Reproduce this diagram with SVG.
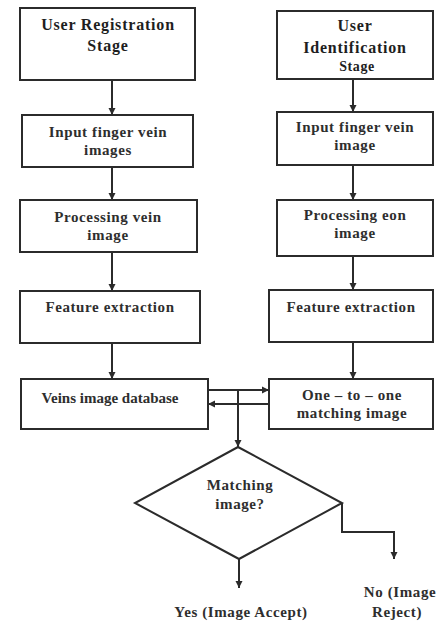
<svg xmlns="http://www.w3.org/2000/svg" width="440" height="623" viewBox="0 0 440 623">
<style>
.box{fill:#fff;stroke:#2b2b2b;stroke-width:2}
.t{font-family:"Liberation Serif","Times New Roman",serif;font-size:15px;font-weight:bold;letter-spacing:0.6px;fill:#2e2e2e;text-anchor:middle}
.b{font-size:16px;letter-spacing:0.8px;fill:#1e1e1e}
.c{fill:none;stroke:#2b2b2b;stroke-width:2}
</style>
<defs>
<marker id="ah" markerUnits="userSpaceOnUse" markerWidth="8" markerHeight="8" refX="7" refY="4" orient="auto">
<path d="M0,0.5 L7,4 L0,7.5 Z" fill="#2b2b2b"/>
</marker>
</defs>
<rect width="440" height="623" fill="#fff"/>
<g id="connectors">
<line class="c" x1="112" y1="80" x2="112" y2="115" marker-end="url(#ah)"/>
<line class="c" x1="112" y1="167" x2="112" y2="200" marker-end="url(#ah)"/>
<line class="c" x1="112" y1="252" x2="112" y2="291" marker-end="url(#ah)"/>
<line class="c" x1="112" y1="343" x2="112" y2="379" marker-end="url(#ah)"/>
<line class="c" x1="353" y1="79" x2="353" y2="112" marker-end="url(#ah)"/>
<line class="c" x1="353" y1="165" x2="353" y2="200" marker-end="url(#ah)"/>
<line class="c" x1="353" y1="256" x2="353" y2="290" marker-end="url(#ah)"/>
<line class="c" x1="353" y1="342" x2="353" y2="379" marker-end="url(#ah)"/>
<line class="c" x1="208" y1="390" x2="269" y2="390" marker-end="url(#ah)"/>
<line class="c" x1="269" y1="404" x2="208" y2="404" marker-end="url(#ah)"/>
<line class="c" x1="238" y1="390" x2="238" y2="447" marker-end="url(#ah)"/>
<polyline class="c" points="342,503 342,532 394,532 394,559" marker-end="url(#ah)"/>
<line class="c" x1="239" y1="559" x2="239" y2="588" marker-end="url(#ah)"/>
</g>
<g id="n1"><rect class="box" x="20" y="8" width="175" height="72"/>
<text class="t b" x="108" y="30">User Registration</text><text class="t b" x="108" y="51">Stage</text></g>
<g id="n2"><rect class="box" x="22" y="115" width="171" height="52"/>
<text class="t" x="108" y="137">Input finger vein</text><text class="t" x="108" y="155">images</text></g>
<g id="n3"><rect class="box" x="20" y="200" width="177" height="52"/>
<text class="t" x="108" y="222">Processing vein</text><text class="t" x="108" y="240">image</text></g>
<g id="n4"><rect class="box" x="20" y="291" width="180" height="52"/>
<text class="t" x="110" y="312">Feature extraction</text></g>
<g id="n5"><rect class="box" x="21" y="379" width="187" height="50"/>
<text class="t" x="110" y="403" style="letter-spacing:0">Veins image database</text></g>
<g id="r1"><rect class="box" x="277" y="11" width="156" height="68"/>
<text class="t b" x="355" y="31">User</text><text class="t b" x="355" y="53">Identification</text><text class="t b" x="357" y="71" style="font-size:14px;letter-spacing:0.6px">Stage</text></g>
<g id="r2"><rect class="box" x="277" y="112" width="156" height="53"/>
<text class="t" x="355" y="132">Input finger vein</text><text class="t" x="355" y="150">image</text></g>
<g id="r3"><rect class="box" x="277" y="200" width="156" height="56"/>
<text class="t" x="355" y="220">Processing eon</text><text class="t" x="355" y="238">image</text></g>
<g id="r4"><rect class="box" x="269" y="290" width="164" height="52"/>
<text class="t" x="351" y="312">Feature extraction</text></g>
<g id="r5"><rect class="box" x="269" y="379" width="164" height="50"/>
<text class="t" x="352" y="400">One – to – one</text><text class="t" x="352" y="418">matching image</text></g>
<g id="d1"><polygon class="box" points="238,447 342,503 239,559 135,503"/>
<text class="t" x="240" y="490">Matching</text><text class="t" x="240" y="509">image?</text></g>
<g id="yes"><text class="t" x="241" y="617">Yes (Image Accept)</text></g>
<g id="no"><text class="t" x="400" y="597">No (Image</text><text class="t" x="397" y="617">Reject)</text></g>
</svg>
